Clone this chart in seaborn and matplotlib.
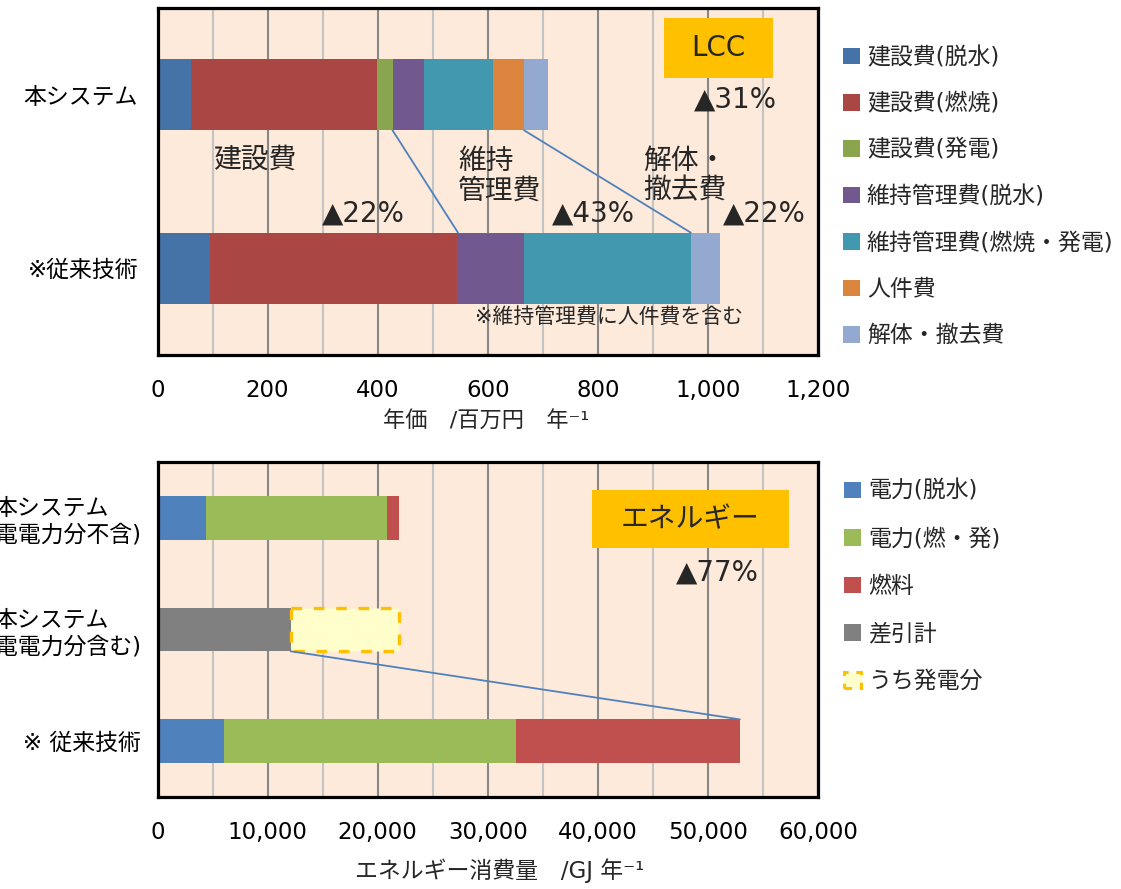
import matplotlib
matplotlib.use('Agg')
import matplotlib.pyplot as plt
import seaborn as sns
import numpy as np
import pandas as pd
from matplotlib.patches import Rectangle, Patch
from matplotlib.ticker import MultipleLocator, FuncFormatter, FixedLocator

sns.set_theme(style='white')
plt.rcParams['font.family'] = ['DejaVu Sans', 'Noto Sans CJK JP']

# ---------------- data ----------------
lcc_systems = ['本システム', '※従来技術']
lcc_items = ['建設費(脱水)', '建設費(燃焼)', '建設費(発電)', '維持管理費(脱水)',
             '維持管理費(燃焼・発電)', '人件費', '解体・撤去費']
lcc_proposed = [60, 338, 29, 58, 125, 56, 43]
lcc_conventional = [96, 450, 0, 119, 304, 0, 53]
lcc_colors = ['#4572A7', '#AA4643', '#89A54E', '#71588F', '#4198AF', '#DB843D', '#93A9CF']
lcc_ticks = [0, 200, 400, 600, 800, 1000, 1200]

energy_systems = ['本システム\n(発電電力分不含)', '本システム\n(発電電力分含む)', '※ 従来技術']
energy_items = ['電力(脱水)', '電力(燃・発)', '燃料']
energy_gross = [4400, 16450, 1080]          # 本システム (発電電力分不含)
energy_conventional = [6000, 26600, 20300]   # 従来技術
energy_net = 12100                           # 差引計
energy_generation = 9830                     # うち発電分
energy_colors = ['#4F81BD', '#9BBB59', '#C0504D']
net_color = '#808080'
energy_ticks = [0, 10000, 20000, 30000, 40000, 50000, 60000]

BG = '#FDEADA'
LINE = '#4F81BD'
FS = 16.5

fig = plt.figure(figsize=(11.21, 8.89), dpi=100)
W, H = 1121, 889
ax1 = fig.add_axes([157.5 / W, (H - 355) / H, 660.5 / W, 347 / H])
ax2 = fig.add_axes([157.5 / W, (H - 797) / H, 660.5 / W, 335 / H])


def stacked(ax, rows, order, item_values, colors, width):
    vals = np.array(item_values, dtype=float)
    cum = np.cumsum(vals, axis=0)
    for i in range(len(item_values) - 1, -1, -1):
        df = pd.DataFrame({'system': rows, 'value': cum[i]})
        sns.barplot(data=df, x='value', y='system', order=order, orient='h',
                    color=colors[i], saturation=1, width=width, errorbar=None,
                    edgecolor='none', linewidth=0, ax=ax, zorder=2)


def style_axis(ax, ticks, minor_step):
    ax.set_facecolor(BG)
    for s in ax.spines.values():
        s.set_color('black')
        s.set_linewidth(2.3)
        s.set_zorder(5)
    ax.set_xlim(ticks[0], ticks[-1])
    ax.xaxis.set_major_locator(FixedLocator(ticks))
    ax.xaxis.set_minor_locator(MultipleLocator(minor_step))
    ax.xaxis.set_major_formatter(FuncFormatter(lambda v, p: f'{v:,.0f}'))
    ax.grid(which='major', axis='x', color='#888888', lw=1.5, zorder=0)
    ax.grid(which='minor', axis='x', color='#C4C4C4', lw=1.5, zorder=0)
    ax.grid(False, axis='y', which='both')
    ax.set_axisbelow(True)
    ax.tick_params(axis='x', which='both', length=0, labelsize=FS, pad=17, colors='black')
    ax.tick_params(axis='y', which='major', length=0, labelsize=FS, colors='black')
    ax.set_xlabel('')
    ax.set_ylabel('')


# ---------------- top: LCC ----------------
w1 = 0.41
stacked(ax1, lcc_systems, lcc_systems,
        [[p, c] for p, c in zip(lcc_proposed, lcc_conventional)], lcc_colors, w1)
style_axis(ax1, lcc_ticks, 100)
ax1.set_ylim(1.5, -0.5)
ax1.yaxis.set_minor_locator(FixedLocator([0.5]))
ax1.tick_params(axis='y', which='minor', length=5, width=1.5, direction='inout', color='black')
ax1.tick_params(axis='y', which='major', pad=14)

# connector lines
ax1.plot([sum(lcc_proposed[:3]), sum(lcc_conventional[:3])], [0 + w1 / 2, 1 - w1 / 2],
         color=LINE, lw=1.3, zorder=3)
ax1.plot([sum(lcc_proposed[:6]), sum(lcc_conventional[:6])], [0 + w1 / 2, 1 - w1 / 2],
         color=LINE, lw=1.3, zorder=3)

# annotations
ax1.add_patch(Rectangle((0.767, 0.798), 0.165, 0.173, transform=ax1.transAxes,
                        facecolor='#FFC000', edgecolor='none', zorder=4))
ax1.text(0.849, 0.885, 'LCC', transform=ax1.transAxes, ha='center', va='center',
         fontsize=20, zorder=5)
ax1.text(0.812, 0.735, '▲31%', transform=ax1.transAxes, ha='left', va='center', fontsize=20, zorder=5)
ax1.text(0.084, 0.562, '建設費', transform=ax1.transAxes, ha='left', va='center', fontsize=20, zorder=5)
ax1.text(0.455, 0.516, '維持\n管理費', transform=ax1.transAxes, ha='left', va='center',
         fontsize=20, linespacing=1.05, zorder=5)
ax1.text(0.735, 0.516, '解体・\n撤去費', transform=ax1.transAxes, ha='left', va='center',
         fontsize=20, linespacing=1.05, zorder=5)
ax1.text(0.249, 0.409, '▲22%', transform=ax1.transAxes, ha='left', va='center', fontsize=20, zorder=5)
ax1.text(0.597, 0.409, '▲43%', transform=ax1.transAxes, ha='left', va='center', fontsize=20, zorder=5)
ax1.text(0.856, 0.409, '▲22%', transform=ax1.transAxes, ha='left', va='center', fontsize=20, zorder=5)
ax1.text(0.481, 0.110, '※維持管理費に人件費を含む', transform=ax1.transAxes, ha='left',
         va='center', fontsize=15, zorder=5)

fig.text(486 / W, 1 - 420 / H, '年価　/百万円　年⁻¹', ha='center', va='center', fontsize=16)

h1 = [Patch(facecolor=c, edgecolor='none', label=l) for c, l in zip(lcc_colors, lcc_items)]
fig.legend(handles=h1, loc='upper left', bbox_to_anchor=(843 / W, 1 - 46 / H),
           frameon=False, fontsize=FS, borderpad=0, borderaxespad=0,
           handlelength=0.74, handleheight=0.74, handletextpad=0.3, labelspacing=1.02)

# ---------------- bottom: energy ----------------
w2 = 0.39
rows_stack = [energy_systems[0], energy_systems[2]]
stacked(ax2, rows_stack, energy_systems,
        [[g, c] for g, c in zip(energy_gross, energy_conventional)], energy_colors, w2)
sns.barplot(data=pd.DataFrame({'system': [energy_systems[1]], 'value': [energy_net]}),
            x='value', y='system', order=energy_systems, orient='h', color=net_color,
            saturation=1, width=w2, errorbar=None, edgecolor='none', linewidth=0, ax=ax2, zorder=2)
ax2.barh(1, energy_generation, left=energy_net, height=w2, facecolor='#FFFFCC',
         edgecolor='#FFC000', linewidth=2.4, linestyle=(0, (3.2, 3.5)), zorder=2)
style_axis(ax2, energy_ticks, 5000)
ax2.set_ylim(2.5, -0.5)
ax2.tick_params(axis='y', which='major', pad=12)
for lab in ax2.get_yticklabels():
    lab.set_multialignment('center')

ax2.plot([energy_net, sum(energy_conventional)], [1 + w2 / 2, 2 - w2 / 2],
         color=LINE, lw=1.3, zorder=3)

ax2.add_patch(Rectangle((0.658, 0.743), 0.298, 0.173, transform=ax2.transAxes,
                        facecolor='#FFC000', edgecolor='none', zorder=4))
ax2.text(0.807, 0.830, 'エネルギー', transform=ax2.transAxes, ha='center', va='center',
         fontsize=20, zorder=5)
ax2.text(0.785, 0.669, '▲77%', transform=ax2.transAxes, ha='left', va='center', fontsize=20, zorder=5)

fig.text(500 / W, 1 - 871 / H, 'エネルギー消費量　/GJ 年⁻¹', ha='center', va='center', fontsize=16.5)

h2 = [Patch(facecolor=c, edgecolor='none', label=l) for c, l in zip(energy_colors, energy_items)]
h2.append(Patch(facecolor=net_color, edgecolor='none', label='差引計'))
h2.append(Patch(facecolor='#FFFFCC', edgecolor='#FFC000', linewidth=2.2,
                linestyle=(0, (2.5, 2.5)), label='うち発電分'))
fig.legend(handles=h2, loc='upper left', bbox_to_anchor=(844 / W, 1 - 480 / H),
           frameon=False, fontsize=FS, borderpad=0, borderaxespad=0,
           handlelength=0.74, handleheight=0.74, handletextpad=0.3, labelspacing=1.07)

fig.savefig('out.png', dpi=100)
